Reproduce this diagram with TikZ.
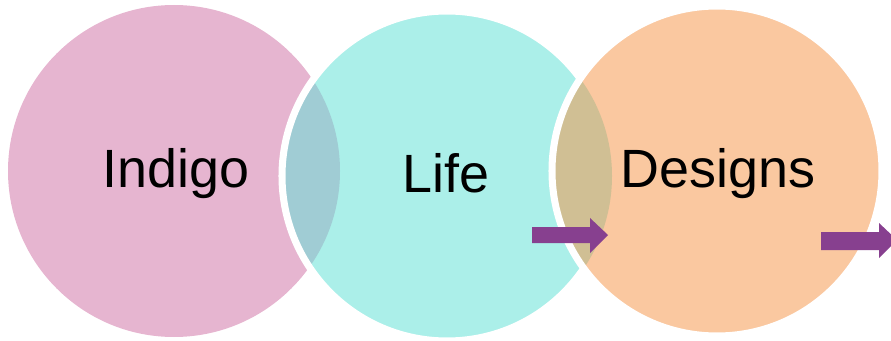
\documentclass[tikz,border=0pt]{standalone}
\usepackage{fontspec}
\setmainfont{Liberation Sans}
\definecolor{indigofill}{HTML}{E6B5D0}
\definecolor{lifefill}{HTML}{ABEFE9}
\definecolor{designfill}{HTML}{FAC8A0}
\definecolor{lensone}{HTML}{A0CCD4}
\definecolor{lenstwo}{HTML}{D0BF94}
\definecolor{arrowfill}{HTML}{87408F}
\begin{document}
\begin{tikzpicture}[x=0.03cm, y=-0.03cm]
  \useasboundingbox (0,0) rectangle (891,341);
  \coordinate (indigo) at (174,171);
  \coordinate (life) at (447,176);
  \coordinate (designs) at (717,171);
  % circles and the two lenses
  \fill[indigofill] (indigo) circle (166);
  \fill[lifefill] (life) circle (165);
  \begin{scope}
    \clip (indigo) circle (166);
    \fill[lensone] (life) circle (165);
  \end{scope}
  \draw[white, line width=6pt] (life) circle (165);
  \fill[designfill] (designs) circle (165);
  \begin{scope}
    \clip (life) circle (165);
    \fill[lenstwo] (designs) circle (165);
  \end{scope}
  \draw[white, line width=6pt] (designs) circle (165);
  % labels
  \node[font=\fontsize{46}{50}\selectfont, anchor=base, inner sep=0pt] (indigolabel) at (176,188) {Indigo};
  \node[font=\fontsize{46}{50}\selectfont, anchor=base, inner sep=0pt] (lifelabel) at (446,193) {Life};
  \node[font=\fontsize{46}{50}\selectfont, anchor=base, inner sep=0pt] (designslabel) at (718,188) {Designs};
  % arrows
  \fill[arrowfill] (532,227) -- (590,227) -- (590,218) -- (608,235) -- (590,253) -- (590,243) -- (532,243) -- cycle;
  \fill[arrowfill] (821,232) -- (879,232) -- (879,223) -- (897,240) -- (879,258) -- (879,250) -- (821,250) -- cycle;
\end{tikzpicture}
\end{document}
